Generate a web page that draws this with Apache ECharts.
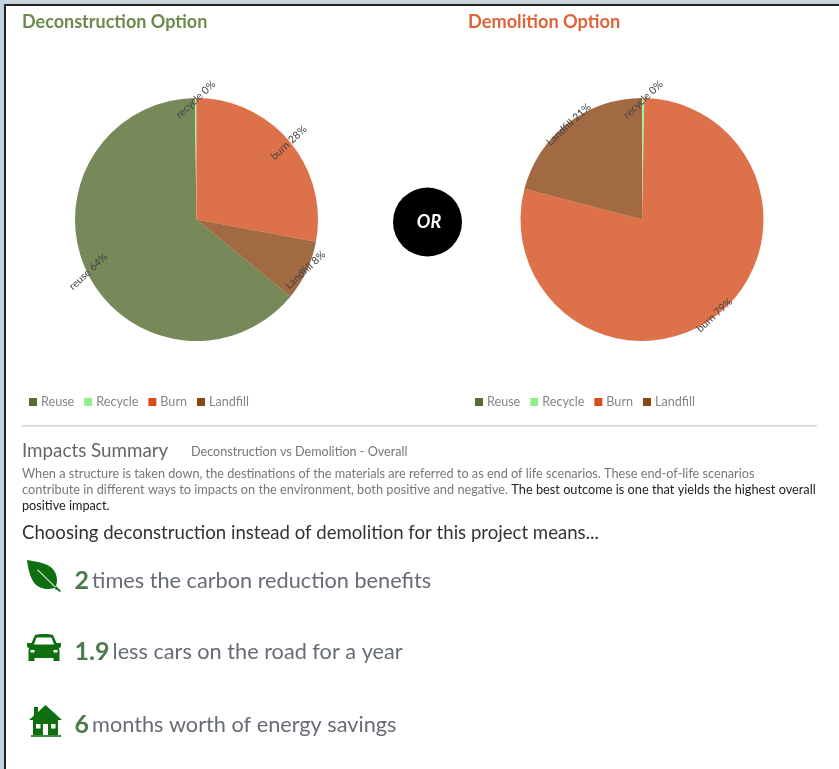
<!DOCTYPE html>
<html><head><meta charset="utf-8">
<style>html,body{margin:0;padding:0;background:#fff}#c{width:839px;height:769px;filter:blur(0.45px)}</style>
<script src="https://cdn.jsdelivr.net/npm/echarts@6/dist/echarts.min.js"></script>
</head><body><div id="c"></div>
<script>
const categories = ['Reuse', 'Recycle', 'Burn', 'Landfill'];
const labelNames = ['reuse', 'recycle', 'burn', 'Landfill'];
const deconstructionValues = [64, 0.2, 28, 8];
const demolitionValues = [0, 0.3, 79, 21];
const optionTitles = ['Deconstruction Option', 'Demolition Option'];
const benefitNumbers = ['2', '1.9', '6'];
const benefitTexts = ['times the carbon reduction benefits', 'less cars on the road for a year', 'months worth of energy savings'];
const paragraph1 = 'When a structure is taken down, the destinations of the materials are referred to as end of life scenarios. These end-of-life scenarios';
const paragraph2a = 'contribute in different ways to impacts on the environment, both positive and negative. ';
const paragraph2b = 'The best outcome is one that yields the highest overall';
const paragraph3 = 'positive impact.';

const colors = ['#556B2F', '#90EE90', '#D54E1C', '#8B4513'];
const FONT = 'Lato';
const chart = echarts.init(document.getElementById('c'), null, {renderer: 'canvas'});

function toData(vals){ return categories.map((n,i)=>({name:n, value:vals[i], labelName:labelNames[i]})); }
function pieSeries(vals, cx, start){
  return [{
    type:'pie', center:[cx,219.5], radius:[0,121.5], startAngle:start, clockwise:true, silent:true,
    data:toData(vals), itemStyle:{opacity:0.8}, label:{show:false}, labelLine:{show:false},
    emphasis:{disabled:true}
  },{
    type:'pie', center:[cx,219.5], radius:[112,122], startAngle:start, clockwise:true, silent:true,
    data:toData(vals), itemStyle:{color:'transparent'}, labelLine:{show:false}, minShowLabelAngle:0.1,
    emphasis:{disabled:true}, legendHoverLink:false,
    label:{show:true, position:'inside', rotate:43, fontFamily:FONT, fontSize:10.5, color:'#444',
      formatter:p=>p.data.labelName+' '+Math.round(p.value/ vals.reduce((a,b)=>a+b,0)*100)+'%'}
  }];
}
function legend(left){
  return {data:categories, left, top:395.5, itemWidth:8, itemHeight:8, itemGap:10, icon:'rect',
    itemStyle:{opacity:1}, selectedMode:false, padding:0,
    textStyle:{fontFamily:FONT, fontSize:12.6, color:'#858585', padding:[0,0,0,-1]}};
}
const txt = (x,y,text,fontSize,fill,extra)=>({type:'text',x,y,style:Object.assign({text,fontSize,fill,fontFamily:FONT,verticalAlign:'middle'},extra||{})});
const g = '#0f6e0f';
const benefitY = [581, 652, 725];
const benefitGraphics = benefitY.map((y,i)=>({
  type:'text', x:74.5, y, style:{
    text:'{n|'+benefitNumbers[i]+'} {t|'+benefitTexts[i]+'}', fontFamily:FONT, verticalAlign:'middle',
    rich:{n:{fontFamily:FONT,fontSize:25,fontWeight:'bold',fill:'#4c7a4c',color:'#4c7a4c'},t:{fontFamily:FONT,fontSize:21.7,color:'#666b75',fill:'#666b75'}}
  }
}));
const iconPaths = [
  ['M27 560 C38 562 50 563 55 572 C58 578 57 584 56 586 L61 591 L60 592 L54 588 C48 590 40 589 35 584 C30 578 28 568 27 560 Z', g],
  ['M37 570 L38 569.5 L56 587 L55 587.5 Z', '#dfeedd'],
  ['M35 635 C37 633.5 51 633.5 53 635 L56.5 643 L61 643 L61 647 L59 648 L59.5 651 L59.5 661 L53.5 661 L53.5 658 L34.5 658 L34.5 661 L28.5 661 L28.5 651 L29 648 L27 647 L27 643 L31.5 643 Z', g],
  ['M36.5 637.5 L51.5 637.5 L54 644.5 L34 644.5 Z', '#fff'],
  ['M30.5 650 h4 v2.5 h-4 Z M53.5 650 h4 v2.5 h-4 Z', '#fff'],
  ['M45.5 705 L62 720 L58 720 L58 735 L33 735 L33 720 L29 720 L34 715.5 L34 707 L38 707 L38 712 Z', g],
  ['M31 735 H61 V737 H31 Z', '#3d8a3d'],
  ['M36 724 h4.5 v4.5 h-4.5 Z M51 724 h4.5 v4.5 h-4.5 Z M43 724 h5 v11 h-5 Z', '#fff']
];
const iconSeries = {
  type:'custom', coordinateSystem:'none', silent:true, data:[0], z:5,
  renderItem:()=>({type:'group',children:iconPaths.map(([d,fill])=>({type:'path',shape:{pathData:d},style:{fill}}))})
};
chart.setOption({
  animation:false,
  backgroundColor:'#fff',
  color:colors,
  title:[
    {text:optionTitles[0], left:22, top:13, padding:0, textStyle:{fontFamily:FONT,fontSize:18,fontWeight:'bold',color:'#6d8a4c'}},
    {text:optionTitles[1], left:468, top:13, padding:0, textStyle:{fontFamily:FONT,fontSize:18.2,fontWeight:'bold',color:'#e0643a'}}
  ],
  legend:[legend(29), legend(475)],
  series:[...pieSeries(deconstructionValues,196.5,-39.3), ...pieSeries(demolitionValues,642,90), iconSeries],
  graphic:{elements:[
    {type:'rect',shape:{x:0,y:0,width:839,height:4},style:{fill:'#c9d3dc'},z:-1},
    {type:'rect',shape:{x:0,y:0,width:4,height:769},style:{fill:'#c4d1e0'},z:-1},
    {type:'rect',shape:{x:4,y:4,width:835,height:2},style:{fill:'#222'},z:-1},
    {type:'rect',shape:{x:4,y:4,width:2,height:765},style:{fill:'#222'},z:-1},
    {type:'circle',shape:{cx:427.5,cy:222,r:34.5},style:{fill:'#000'}},
    {type:'text',x:429,y:222,style:{text:'OR',fontFamily:FONT,fontSize:18,fontStyle:'italic',fontWeight:'bold',fill:'#fff',align:'center',verticalAlign:'middle'}},
    {type:'rect',shape:{x:22,y:425,width:795,height:1.5},style:{fill:'#d5d5d5'}},
    txt(22,451,'Impacts Summary',18.8,'#666'),
    txt(191,452,'Deconstruction vs Demolition - Overall',12.6,'#777'),
    txt(22,473.5,paragraph1,12.7,'#777'),
    {type:'text',x:22,y:489.5,style:{text:'{a|'+paragraph2a+'}{b|'+paragraph2b+'}',fontFamily:FONT,verticalAlign:'middle',
      rich:{a:{fontFamily:FONT,fontSize:12.75,color:'#777',fill:'#777'},b:{fontFamily:FONT,fontSize:12.75,color:'#222',fill:'#222'}}}},
    txt(22,505.5,paragraph3,12.7,'#222'),
    txt(22,533,'Choosing deconstruction instead of demolition for this project means...',18.6,'#333'),
    ...benefitGraphics
  ]}
});
</script></body></html>
